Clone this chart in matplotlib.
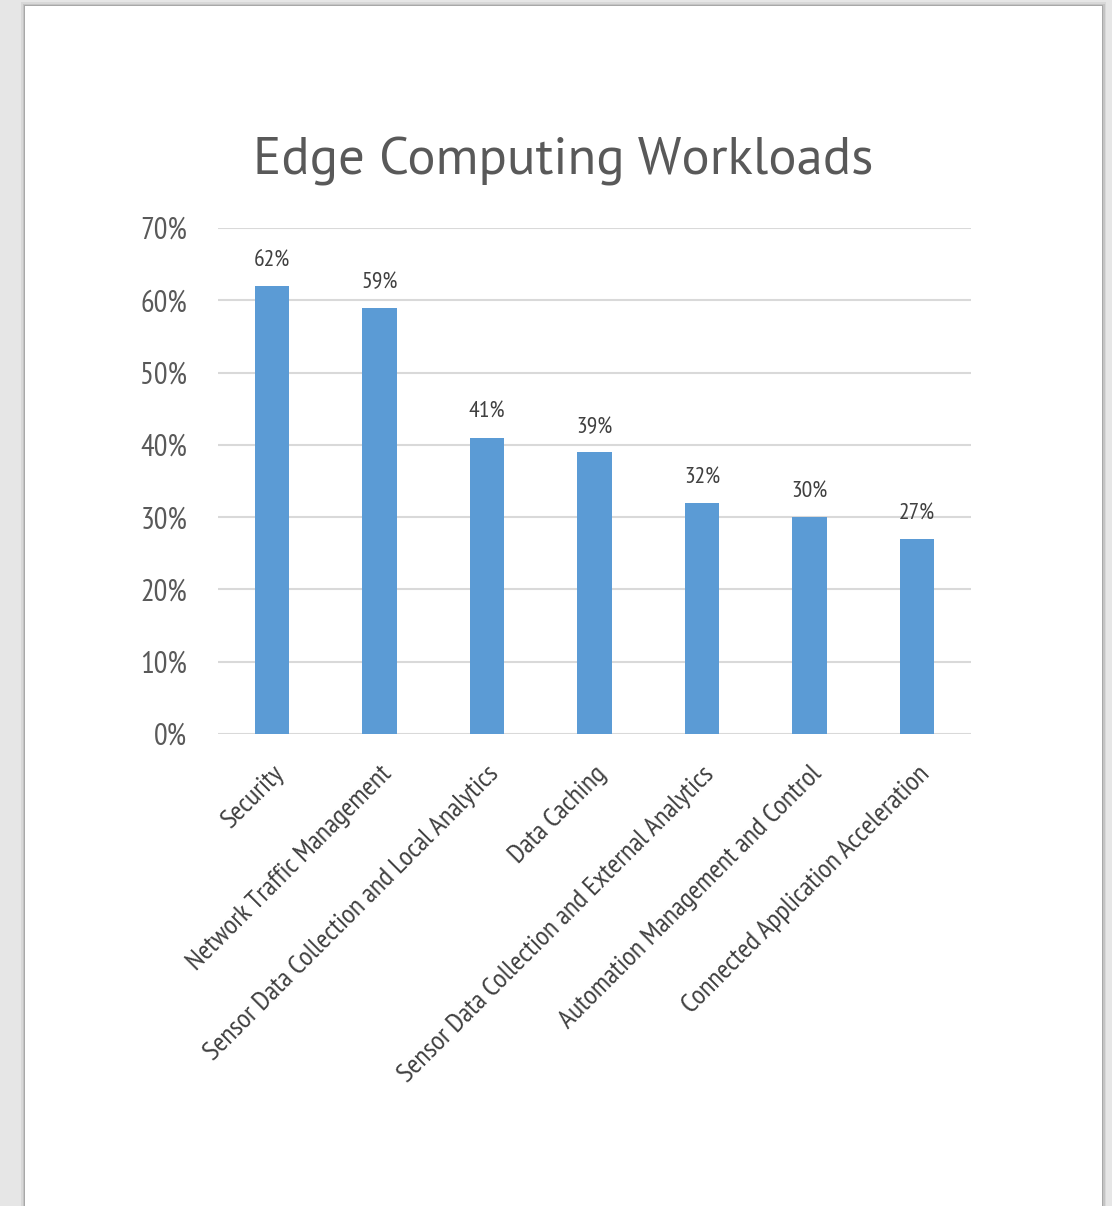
import matplotlib.pyplot as plt
from matplotlib.patches import Rectangle
from matplotlib.ticker import FuncFormatter

NARROW = ['PT Sans Narrow', 'Liberation Sans Narrow', 'DejaVu Sans']
REGULAR = ['PT Sans', 'Liberation Sans', 'DejaVu Sans']
plt.rcParams['font.family'] = NARROW

categories = [
    "Security",
    "Network Traffic Management",
    "Sensor Data Collection and Local Analytics",
    "Data Caching",
    "Sensor Data Collection and External Analytics",
    "Automation Management and Control",
    "Connected Application Acceleration",
]
shares = [62, 59, 41, 39, 32, 30, 27]
yticks = [0, 10, 20, 30, 40, 50, 60, 70]

W, H = 1112, 1206
fig = plt.figure(figsize=(W / 100, H / 100), dpi=100)
fig.patch.set_facecolor("#e6e6e6")

# page sheet with a soft edge shadow
for off, col in [(8, "#d8d8d8"), (5, "#c4c4c4"), (2, "#a8a8a8")]:
    fig.add_artist(Rectangle(((25 - off / 2) / W, 0), (1077 + off) / W, (1200 + off / 2) / H,
                             transform=fig.transFigure, facecolor=col, edgecolor="none", zorder=0))
fig.add_artist(Rectangle((25 / W, 0), 1077 / W, 1200 / H,
                         transform=fig.transFigure, facecolor="white", edgecolor="none", zorder=0))

ax = fig.add_axes([218 / W, 1 - 734 / H, 753 / W, 506 / H])
ax.set_facecolor("none")
x = range(len(categories))
bars = ax.bar(x, shares, width=0.32, color="#5b9bd5", zorder=3)
for b, v in zip(bars, shares):
    ax.text(b.get_x() + b.get_width() / 2, v + 2.0, f"{v}%", ha="center", va="bottom",
            fontsize=17, color="#404040")

ax.set_xlim(-0.5, len(categories) - 0.5)
ax.set_ylim(0, 70)
ax.set_yticks(yticks)
ax.yaxis.set_major_formatter(FuncFormatter(lambda v, p: f"{v:.0f}%"))
ax.grid(axis="y", color="#d9d9d9", linewidth=1.5, zorder=0)
for s in ax.spines.values():
    s.set_visible(False)
ax.tick_params(axis="both", length=0, colors="#595959")
ax.tick_params(axis="y", labelsize=22, pad=22)
ax.set_xticks(list(x))
ax.set_xticklabels(categories, rotation=45, ha="right", rotation_mode="anchor",
                   fontsize=20, color="#404040")
ax.tick_params(axis="x", pad=20)

fig.text(563 / W, 1 - 162 / H, "Edge Computing Workloads", ha="center", va="center",
         fontsize=38, color="#595959", family=REGULAR)

fig.savefig("out.png", dpi=100, facecolor=fig.get_facecolor())
